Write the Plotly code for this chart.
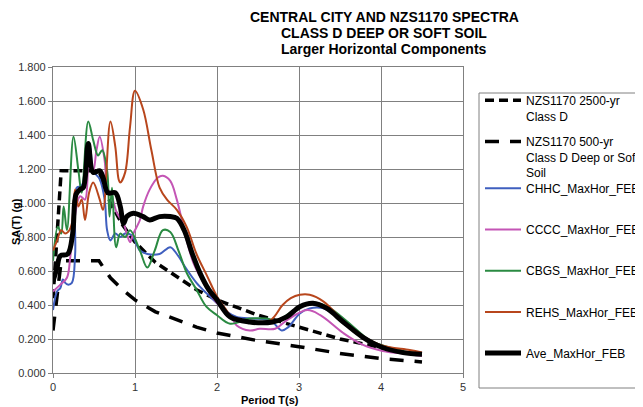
import plotly.graph_objects as go

# ---------------- data ----------------
nzs2500_T = [0, 0.1, 0.56, 0.7, 0.85, 1.0, 1.25, 1.5, 1.75, 2.0, 2.5, 3.0, 3.5, 4.0, 4.5]
nzs2500_SA = [0.44, 1.19, 1.19, 1.00, 0.87, 0.77, 0.65, 0.57, 0.49, 0.43, 0.34, 0.27, 0.20, 0.15, 0.105]

nzs500_T = [0, 0.1, 0.56, 0.7, 0.85, 1.0, 1.25, 1.5, 1.75, 2.0, 2.5, 3.0, 3.5, 4.0, 4.5]
nzs500_SA = [0.25, 0.66, 0.66, 0.56, 0.49, 0.43, 0.36, 0.315, 0.27, 0.235, 0.19, 0.155, 0.115, 0.085, 0.065]

chhc_T = [0, 0.05, 0.09, 0.12, 0.15, 0.18, 0.23, 0.27, 0.29, 0.35, 0.41, 0.45, 0.49, 0.57, 0.63, 0.66,
          0.70, 0.76, 0.82, 0.88, 0.96, 1.06, 1.15, 1.30, 1.43, 1.51, 1.63, 1.75, 1.87, 2.0, 2.12, 2.24,
          2.44, 2.65, 2.79, 2.87, 3.01, 3.13, 3.3, 3.55, 3.8, 4.05, 4.3, 4.5]
chhc_SA = [0.37, 0.48, 0.50, 0.55, 0.53, 0.52, 0.53, 0.70, 1.09, 1.10, 1.29, 1.33, 1.19, 1.14, 1.02, 0.84,
           0.78, 0.82, 0.80, 0.82, 0.81, 0.72, 0.70, 0.70, 0.74, 0.70, 0.61, 0.53, 0.47, 0.41, 0.36, 0.33,
           0.32, 0.31, 0.25, 0.27, 0.35, 0.38, 0.38, 0.30, 0.20, 0.15, 0.12, 0.11]

cccc_T = [0, 0.09, 0.17, 0.21, 0.24, 0.33, 0.39, 0.44, 0.49, 0.53, 0.57, 0.63, 0.66, 0.70, 0.73, 0.78,
          0.86, 0.90, 0.94, 0.98, 1.06, 1.1, 1.18, 1.28, 1.34, 1.43, 1.51, 1.61, 1.71, 1.79, 1.91, 2.04,
          2.16, 2.24, 2.4, 2.52, 2.71, 2.85, 3.1, 3.26, 3.54, 3.78, 4.02, 4.35, 4.5]
cccc_SA = [0.48, 0.52, 0.56, 0.68, 0.82, 1.04, 1.02, 1.24, 1.19, 1.31, 1.39, 1.25, 1.09, 1.06, 1.02, 0.94,
           0.88, 0.82, 0.77, 0.82, 0.90, 0.98, 1.08, 1.15, 1.16, 1.13, 1.02, 0.82, 0.65, 0.57, 0.47, 0.39,
           0.34, 0.28, 0.25, 0.26, 0.26, 0.31, 0.37, 0.34, 0.235, 0.165, 0.13, 0.11, 0.10]

cbgs_T = [0, 0.06, 0.10, 0.13, 0.17, 0.25, 0.31, 0.35, 0.43, 0.49, 0.55, 0.6, 0.66, 0.69, 0.72, 0.77,
          0.82, 0.88, 0.94, 1.06, 1.15, 1.24, 1.34, 1.43, 1.53, 1.63, 1.75, 1.87, 2.0, 2.16, 2.4, 2.6,
          2.73, 2.98, 3.22, 3.38, 3.62, 3.87, 4.1, 4.3, 4.5]
cbgs_SA = [0.66, 0.86, 0.82, 0.98, 0.84, 1.39, 1.19, 1.06, 1.48, 1.37, 1.28, 1.31, 1.19, 0.92, 1.09, 0.74,
           0.82, 0.80, 0.84, 0.72, 0.62, 0.72, 0.84, 0.83, 0.72, 0.59, 0.49, 0.39, 0.34, 0.29, 0.32, 0.32,
           0.31, 0.38, 0.41, 0.38, 0.29, 0.19, 0.15, 0.125, 0.115]

rehs_T = [0, 0.05, 0.10, 0.15, 0.20, 0.23, 0.27, 0.31, 0.35, 0.39, 0.44, 0.49, 0.57, 0.61, 0.70, 0.76,
          0.80, 0.82, 0.88, 0.94, 1.0, 1.1, 1.2, 1.3, 1.39, 1.51, 1.63, 1.75, 1.88, 2.0, 2.1, 2.2, 2.4,
          2.65, 2.8, 2.9, 3.01, 3.13, 3.3, 3.62, 3.99, 4.35, 4.5]
rehs_SA = [0.72, 0.78, 0.84, 0.82, 0.84, 0.88, 1.08, 0.98, 1.02, 0.90, 1.06, 1.12, 1.02, 0.96, 1.48, 1.33,
           1.14, 1.12, 1.18, 1.45, 1.66, 1.55, 1.31, 1.09, 1.02, 0.96, 0.86, 0.70, 0.57, 0.45, 0.38, 0.32, 0.30,
           0.31, 0.40, 0.44, 0.46, 0.46, 0.42, 0.27, 0.165, 0.135, 0.12]

ave_T = [0, 0.05, 0.09, 0.18, 0.24, 0.28, 0.33, 0.37, 0.43, 0.49, 0.57, 0.61, 0.67, 0.76, 0.82, 0.86,
         0.9, 0.98, 1.1, 1.18, 1.3, 1.43, 1.51, 1.6, 1.7, 1.8, 1.9, 2.0, 2.16, 2.4, 2.68, 2.85, 3.01,
         3.17, 3.34, 3.54, 3.78, 4.02, 4.27, 4.5]
ave_SA = [0.54, 0.62, 0.69, 0.70, 0.82, 1.05, 1.08, 1.09, 1.35, 1.18, 1.19, 1.15, 1.06, 1.06, 0.98, 0.88,
          0.92, 0.94, 0.92, 0.90, 0.92, 0.92, 0.91, 0.84, 0.70, 0.58, 0.49, 0.43, 0.33, 0.30, 0.30, 0.33, 0.39,
          0.41, 0.38, 0.30, 0.21, 0.15, 0.12, 0.11]

names = ["NZS1170 2500-yr<br>Class D",
         "NZS1170 500-yr<br>Class D Deep or Soft<br>Soil",
         "CHHC_MaxHor_FEB<br> ",
         "CCCC_MaxHor_FEB<br> ",
         "CBGS_MaxHor_FEB<br> ",
         "REHS_MaxHor_FEB<br> ",
         "Ave_MaxHor_FEB<br> "]

title_lines = ["CENTRAL CITY AND NZS1170 SPECTRA",
               "CLASS D DEEP OR SOFT SOIL",
               "Larger Horizontal Components"]

x_ticks = [0, 1, 2, 3, 4, 5]
y_ticks = [0.0, 0.2, 0.4, 0.6, 0.8, 1.0, 1.2, 1.4, 1.6, 1.8]

FONT = "Liberation Sans, Arial, sans-serif"

fig = go.Figure()

series = [
    (nzs2500_T, nzs2500_SA, names[0], dict(color="black", width=3.5, dash="9px,5px")),
    (nzs500_T, nzs500_SA, names[1], dict(color="black", width=3.5, dash="14px,11px")),
    (chhc_T, chhc_SA, names[2], dict(color="#3f5fbf", width=2)),
    (cccc_T, cccc_SA, names[3], dict(color="#c455b5", width=2)),
    (cbgs_T, cbgs_SA, names[4], dict(color="#2a8a42", width=2)),
    (rehs_T, rehs_SA, names[5], dict(color="#b8461c", width=2)),
    (ave_T, ave_SA, names[6], dict(color="black", width=5)),
]
for i, (t, s, n, ln) in enumerate(series):
    fig.add_trace(go.Scatter(x=t, y=s, name=n, mode="lines", line=ln,
                             legendgroup=f"g{i}",
                             legend="legend" if i < 2 else "legend2",
                             line_shape="spline" if i >= 2 else "linear"))

axis_common = dict(
    showgrid=True, gridcolor="#808080", gridwidth=1.2,
    showline=True, linecolor="#808080", linewidth=1.2, mirror=True,
    ticks="outside", ticklen=4, tickcolor="#808080",
    tickfont=dict(family=FONT, size=11, color="#333333"),
    zeroline=False,
)
fig.update_xaxes(range=[0, 5], tickvals=x_ticks, ticktext=[str(v) for v in x_ticks], **axis_common)
fig.update_yaxes(range=[0, 1.8], tickvals=y_ticks, ticktext=[f"{v:.3f}" for v in y_ticks], **axis_common)

# plot area in page pixels: x 53..463, y 67..373 (page has an 8px body margin)
def px_x(p):
    return (p - 53) / 410

def px_y(p):
    return (373 - p) / 306

annotations = []
for line_text, ypage in zip(title_lines, [17, 33, 49]):
    annotations.append(dict(text=f"<b>{line_text}</b>", x=px_x(384), xref="paper", xanchor="center",
                            y=px_y(ypage), yref="paper", yanchor="middle", showarrow=False,
                            font=dict(family=FONT, size=14, color="black")))
annotations.append(dict(text="<b>Period T(s)</b>", x=px_x(270), xref="paper", xanchor="center",
                        y=px_y(400), yref="paper", yanchor="middle", showarrow=False,
                        font=dict(family=FONT, size=11, color="black")))
annotations.append(dict(text="<b>SA(T) (g)</b>", x=px_x(16), xref="paper", xanchor="center",
                        y=px_y(222), yref="paper", yanchor="middle", textangle=-90,
                        showarrow=False, font=dict(family=FONT, size=11, color="black")))

legend_common = dict(xanchor="left", yanchor="top", borderwidth=0, bgcolor="rgba(0,0,0,0)",
                     font=dict(family=FONT, size=12, color="black"),
                     tracegroupgap=7, valign="top", itemwidth=36)

fig.update_layout(
    width=635, height=399,
    margin=dict(l=45, r=180, t=59, b=34, autoexpand=False),
    paper_bgcolor="white", plot_bgcolor="white",
    font=dict(family=FONT, size=12, color="black"),
    legend=dict(x=px_x(480), y=px_y(86), **legend_common),
    legend2=dict(x=px_x(480), y=px_y(174), **legend_common),
    showlegend=True,
    annotations=annotations,
    shapes=[dict(type="rect", xref="paper", yref="paper",
                 x0=px_x(479), x1=px_x(700), y0=px_y(388), y1=px_y(93),
                 line=dict(color="#808080", width=1), fillcolor="rgba(0,0,0,0)", layer="below")],
)

fig.write_html("out.html")
